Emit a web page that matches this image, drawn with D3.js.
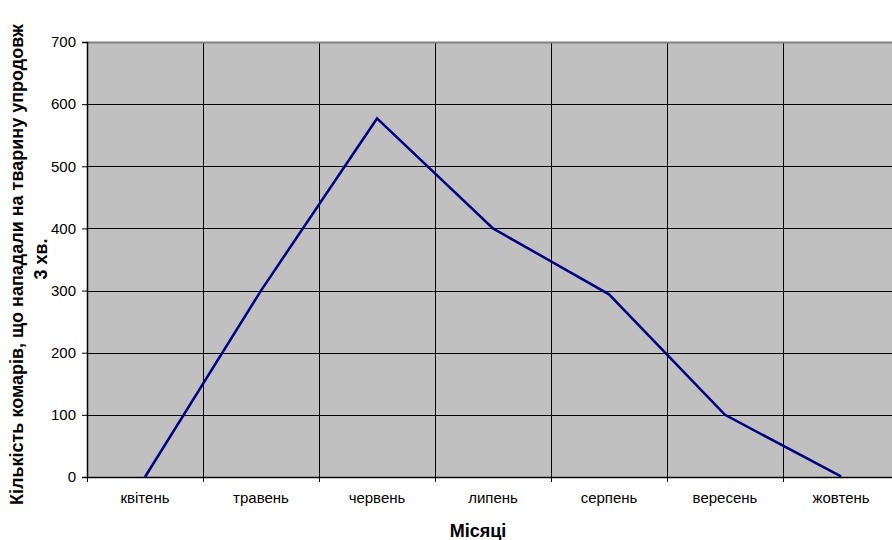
<!DOCTYPE html>
<html>
<head>
<meta charset="utf-8">
<script src="https://cdn.jsdelivr.net/npm/d3@7"></script>
<style>
body { margin: 0; background: #fff; overflow: hidden; }
text { font-family: "Liberation Sans", Arial, sans-serif; }
</style>
</head>
<body>
<div id="chart"></div>
<script>
var months = ["квітень", "травень", "червень", "липень", "серпень", "вересень", "жовтень"];
var mosquitoes = [0, 300, 577, 400, 294, 100, 1];
var yTicks = [0, 100, 200, 300, 400, 500, 600, 700];

var margin = {top: 42, left: 87, bottom: 63},
	W = 892, H = 540,
	bandW = 116,
	width = bandW * months.length,
	height = H - margin.top - margin.bottom;

var svg = d3.select("#chart")
	.append("svg")
	.attr("width", W)
	.attr("height", H);

var g = svg.append("g")
	.attr("transform", "translate(" + margin.left + "," + margin.top + ")");

var x = d3.scaleBand()
	.domain(months)
	.range([0, width]);

var y = d3.scaleLinear()
	.domain([0, 700])
	.range([height, 0]);

// plot background
g.append("rect")
	.attr("width", width)
	.attr("height", height)
	.style("fill", "#c0c0c0");

// horizontal grid
g.selectAll(".hgrid")
	.data(yTicks.slice(1, -1))
	.enter()
	.append("line")
	.attr("x1", 0).attr("x2", width)
	.attr("y1", d => Math.round(y(d)) + 0.5)
	.attr("y2", d => Math.round(y(d)) + 0.5)
	.style("stroke", "#000")
	.style("stroke-width", 1);

// vertical grid at band boundaries
g.selectAll(".vgrid")
	.data(months.slice(1))
	.enter()
	.append("line")
	.attr("x1", d => x(d) + 0.5).attr("x2", d => x(d) + 0.5)
	.attr("y1", 0).attr("y2", height)
	.style("stroke", "#000")
	.style("stroke-width", 1);

// top border of plot area
g.append("line")
	.attr("x1", 0).attr("x2", width)
	.attr("y1", 0.5).attr("y2", 0.5)
	.style("stroke", "#808080")
	.style("stroke-width", 2);

// y axis
var yAxis = g.append("g")
	.call(d3.axisLeft(y).tickValues(yTicks).tickSize(5).tickPadding(6));
yAxis.select(".domain").attr("stroke", "#000").attr("stroke-width", 1.5);
yAxis.selectAll("text").style("font-size", "15px").style("fill", "#000")
	.style("font-family", "'Liberation Sans', Arial, sans-serif");

// x axis
var xAxis = g.append("g")
	.attr("transform", "translate(0," + height + ")")
	.call(d3.axisBottom(x).tickSize(0).tickPadding(15));
xAxis.select(".domain").attr("stroke", "#000").attr("stroke-width", 1.5);
xAxis.selectAll("text").style("font-size", "15px").style("fill", "#000")
	.style("font-family", "'Liberation Sans', Arial, sans-serif");

// x ticks at band boundaries
g.selectAll(".xtick")
	.data(months)
	.enter()
	.append("line")
	.attr("x1", d => x(d) + 0.5).attr("x2", d => x(d) + 0.5)
	.attr("y1", height).attr("y2", height + 5)
	.style("stroke", "#000");

// data line
var line = d3.line()
	.x((d, i) => x(months[i]) + x.bandwidth() / 2)
	.y(d => y(d));

g.append("path")
	.datum(mosquitoes)
	.attr("d", line)
	.style("fill", "none")
	.style("stroke", "#000080")
	.style("stroke-width", 2.5);

// axis titles
svg.append("text")
	.attr("x", 478)
	.attr("y", 537)
	.attr("text-anchor", "middle")
	.style("font-size", "18px")
	.style("font-weight", "bold")
	.text("Місяці");

var yt = svg.append("text")
	.attr("transform", "rotate(-90)")
	.style("font-size", "18px")
	.style("font-weight", "bold");
yt.append("tspan").attr("x", -505).attr("y", 23)
	.text("Кількість комарів, що нападали на тварину упродовж");
yt.append("tspan").attr("x", -259).attr("y", 47)
	.attr("text-anchor", "middle").text("3 хв.");
</script>
</body>
</html>
